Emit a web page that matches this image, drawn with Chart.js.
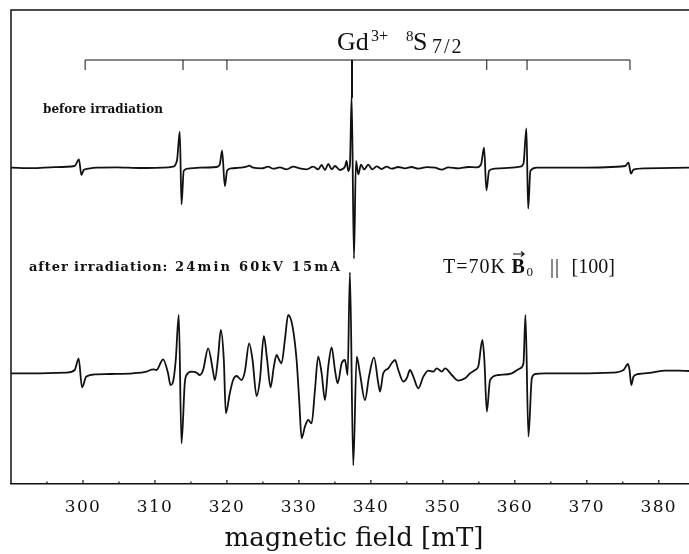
<!DOCTYPE html>
<html>
<head>
<meta charset="utf-8">
<script src="https://cdn.jsdelivr.net/npm/chart.js@4.4.1/dist/chart.umd.min.js"></script>
<style>
  html, body { margin: 0; padding: 0; background: #fff; }
</style>
</head>
<body>
<canvas id="graficoEspectro" width="689" height="554"></canvas>
<script>
// Espectro EPR antes de irradiar (campo en mT, señal en unidades arbitrarias)
const campoAntes = [290.0, 293.0, 296.0, 298.85, 299.44, 299.78, 300.1, 300.7, 301.86, 304.65, 307.9, 311.1,
  312.5, 313.07, 313.45, 313.69, 314.0, 314.6, 316.2, 318.55, 319.0, 319.33, 319.71, 320.03, 320.64, 321.8,
  322.73, 323.09, 323.64, 324.81, 325.73, 326.43, 327.36, 328.29, 329.21, 330.14, 331.07, 331.99, 332.68,
  333.16, 333.62, 334.08, 334.55, 335.01, 335.7, 336.4, 336.63, 336.86, 337.09, 337.33, 337.65, 337.93,
  338.25, 338.62, 339.08, 339.64, 340.19, 340.81, 341.5, 342.2, 342.89, 343.81, 344.74, 345.67, 346.59,
  347.76, 348.91, 349.85, 350.76, 352.16, 353.55, 354.71, 355.31, 355.73, 356.05, 356.43, 357.26, 359.58,
  360.74, 361.2, 361.61, 361.85, 362.17, 363.06, 368.85, 375.34, 375.8, 376.13, 376.49, 378.12, 384.2];
const senalAntes = [0, -0.5, 0.5, 1.7, 8.3, -7.3, -2.3, -1, 0, 0.3, -0.3, 0,
  1, 7.7, 36, -36.7, -3, -1, 0, 0.7, 3, 17, -18.3, -3, -0.7, 0,
  1, 2, 0, -0.7, 1, -1, 0.3, -1.7, 1, -0.7, -1.7, 1, -1.7,
  2.7, -2.3, 3.7, -1.7, 1.7, -2.3, 1, 6.7, -3.3, 3, 72, -91, 6.7,
  -6.7, 3, -1.7, 3, -1.7, 1.3, -1.3, 1, -1, 0.7, -0.7, 0.7, -1,
  0.5, 0, -2, 0.3, -0.7, 0.7, 0.3, 3.3, 20, -22.7, -3, -1, 0,
  1, 4, 39.3, -41, -3, 0, 0, 1.7, 5, -6, -2, -0.7, 0];

// Espectro EPR despues de irradiar: 24min 60kV 15mA
const campoDespues = [290.0, 293.05, 297.69, 298.85, 299.4, 299.86, 300.47, 301.86, 303.71, 306.95, 308.82,
  309.74, 310.21, 311.13, 311.82, 312.16, 312.52, 312.89, 313.31, 313.69, 314.14, 314.38, 315.08, 315.77,
  316.23, 316.69, 317.39, 318.08, 318.32, 318.78, 319.15, 319.57, 319.85, 320.4, 320.86, 321.34, 322.03,
  322.49, 323.09, 323.56, 324.12, 324.58, 325.13, 325.59, 326.06, 326.52, 326.9, 327.26, 327.59, 328.05,
  328.51, 329.12, 329.68, 330.04, 330.38, 330.84, 331.29, 331.77, 332.23, 332.68, 333.16, 333.62, 334.08,
  334.55, 335.01, 335.38, 335.94, 336.4, 336.77, 337.09, 337.55, 338.03, 338.48, 339.18, 339.74, 340.43,
  341.03, 341.27, 341.72, 342.42, 342.89, 343.35, 343.81, 344.51, 344.98, 345.44, 345.9, 346.59, 347.29,
  347.98, 348.68, 349.15, 349.85, 350.31, 351.24, 352.16, 353.09, 353.78, 354.48, 354.94, 355.49, 355.77,
  356.11, 356.56, 357.72, 359.58, 360.74, 361.2, 361.48, 361.89, 362.36, 362.82, 364.21, 368.85, 373.49,
  375.1, 375.72, 375.94, 376.18, 376.49, 377.19, 379.05, 380.9, 382.75, 384.2];
const senalDespues = [0, 0, 0.7, 3.3, 15, -14, -3.3, -1, -0.7, 0, 1.7,
  4, 3.3, 14, 0, -11.7, -8.3, 13.3, 58.3, -70, -10, -1.7, 1.7, 0.7,
  -1.7, 3.3, 25, 1.7, -6.7, 16.7, 43.3, 13.3, -40, -20, -6.7, -2.7, -6.7,
  1.7, 30, 13.3, -22.7, -6.7, 37.3, 13.3, -14, 6.7, 18.3, 13.3, 10, 33.3,
  58.3, 46.7, 13.3, -26.7, -65, -53.3, -46.7, -50, -16.7, 16.7, 0, -26.7, 6.7,
  26, 3.3, -10, 10, 13.3, -1.7, 101, -92, 16.7, 0, -26.7, -3.3, 16,
  -10, -18.3, 0, 5, 10, 13.3, 3.3, -8.3, -5, 3.3, -3.3, -15, -3.3,
  2.7, 1.7, 5, 1.7, 5, -1.7, -7.3, -5, 0, 3.3, 7.3, 33.3, 13.3,
  -38.3, -6.7, -1.7, 0, 5, 10, 58.3, -63.3, -5, -0.7, 0, 0, 0.7,
  3.3, 9.3, 3.3, -11.7, -3.3, -0.7, 0.7, 2.7, 2.7, 2.3];

// Etiquetas del eje x y posiciones de las lineas de estructura fina del Gd3+
const ticksCampo = [300, 310, 320, 330, 340, 350, 360, 370, 380];
const lineasGd = [300.3, 313.9, 320.0, 337.38, 356.1, 361.7, 376.0];

// Desplazamiento vertical de cada espectro
const DESPLAZ_ANTES = 316.3;
const DESPLAZ_DESPUES = 110.7;
const NEGRO = '#111';

function texto(ctx, str, x, y, font, espaciado) {
    ctx.font = font;
    ctx.letterSpacing = (espaciado || 0) + 'px';
    ctx.fillText(str, x, y);
    ctx.letterSpacing = '0px';
}

// Marco, corchete de lineas, anotaciones y titulo del eje
const pluginMarco = {
    id: 'marco',
    beforeDraw(chart) {
        chart.ctx.letterSpacing = '1.3px';
    },
    beforeDatasetsDraw(chart) {
        chart.ctx.letterSpacing = '0px';
    },
    afterDraw(chart) {
        const ctx = chart.ctx;
        const area = chart.chartArea;
        const xs = chart.scales.x;
        const ys = chart.scales.y;
        ctx.save();
        ctx.strokeStyle = NEGRO;
        ctx.fillStyle = NEGRO;

        // borde superior e izquierdo
        ctx.lineWidth = 1.5;
        ctx.beginPath();
        ctx.moveTo(area.left, area.bottom);
        ctx.lineTo(area.left, area.top);
        ctx.lineTo(chart.width, area.top);
        ctx.stroke();

        // marcas hacia dentro del eje x
        ctx.lineWidth = 1.2;
        for (let v = 295; v <= 380; v += 5) {
            const px = xs.getPixelForValue(v);
            const largo = v % 10 === 0 ? 4 : 2.5;
            ctx.beginPath();
            ctx.moveTo(px, area.bottom);
            ctx.lineTo(px, area.bottom - largo);
            ctx.stroke();
        }

        // corchete de las lineas Gd3+
        const yCorchete = 60;
        ctx.lineWidth = 1;
        ctx.beginPath();
        ctx.moveTo(xs.getPixelForValue(lineasGd[0]), yCorchete);
        ctx.lineTo(xs.getPixelForValue(lineasGd[lineasGd.length - 1]), yCorchete);
        ctx.stroke();
        lineasGd.forEach((v, i) => {
            const px = xs.getPixelForValue(v);
            const fin = i === 3 ? ys.getPixelForValue(DESPLAZ_ANTES + 70) : yCorchete + 10;
            ctx.lineWidth = i === 3 ? 2 : 1;
            ctx.beginPath();
            ctx.moveTo(px, yCorchete);
            ctx.lineTo(px, fin);
            ctx.stroke();
        });

        ctx.textBaseline = 'alphabetic';
        ctx.textAlign = 'left';

        // Gd3+ 8S7/2
        texto(ctx, 'Gd', 337, 49.5, '26px "Liberation Serif"');
        texto(ctx, '3+', 371, 41, '16px "Liberation Serif"');
        texto(ctx, '8', 406, 41, '15px "Liberation Serif"');
        texto(ctx, 'S', 413, 49.5, '26px "Liberation Serif"');
        texto(ctx, '7/2', 432, 53, '20px "Liberation Serif"', 2);

        // rotulos de los espectros
        texto(ctx, 'before irradiation', 43, 113, 'bold 12px "DejaVu Serif"');
        texto(ctx, 'after irradiation:', 29, 271, 'bold 13px "DejaVu Serif"', 0.9);
        texto(ctx, '24min 60kV 15mA', 175, 271, 'bold 13px "DejaVu Serif"', 2.2);

        // T=70K B0 || [100]
        texto(ctx, 'T=70K', 443, 272.5, '20px "Liberation Serif"', 1);
        texto(ctx, 'B', 511.5, 272.5, 'bold 20px "Liberation Serif"');
        ctx.lineWidth = 1.2;
        ctx.beginPath();
        ctx.moveTo(513, 254);
        ctx.lineTo(524, 254);
        ctx.moveTo(521, 251.5);
        ctx.lineTo(524, 254);
        ctx.lineTo(521, 256.5);
        ctx.stroke();
        texto(ctx, '0', 526.5, 276, '13px "Liberation Serif"');
        texto(ctx, '||', 550, 272.5, '20px "Liberation Serif"', 1);
        texto(ctx, '[100]', 571.5, 272.5, '20px "Liberation Serif"');

        // titulo del eje x
        ctx.textAlign = 'center';
        texto(ctx, 'magnetic field [mT]', 354, 546, '26px "DejaVu Serif"');
        ctx.restore();
    }
};

const puntosAntes = campoAntes.map((c, i) => ({ x: c, y: senalAntes[i] + DESPLAZ_ANTES }));
const puntosDespues = campoDespues.map((c, i) => ({ x: c, y: senalDespues[i] + DESPLAZ_DESPUES }));

const ctx = document.getElementById('graficoEspectro').getContext('2d');
window.graficoEspectro = new Chart(ctx, {
    type: 'line',
    data: {
        datasets: [{
            label: 'before irradiation',
            data: puntosAntes,
            borderColor: NEGRO,
            borderWidth: 1.8,
            pointRadius: 0,
            fill: false,
            cubicInterpolationMode: 'monotone'
        }, {
            label: 'after irradiation',
            data: puntosDespues,
            borderColor: NEGRO,
            borderWidth: 1.8,
            pointRadius: 0,
            fill: false,
            cubicInterpolationMode: 'monotone'
        }]
    },
    options: {
        responsive: false,
        animation: false,
        devicePixelRatio: 1,
        layout: { padding: { left: 11, top: 10, right: 0, bottom: 0 } },
        plugins: {
            legend: { display: false },
            tooltip: { enabled: false }
        },
        scales: {
            x: {
                type: 'linear',
                min: 290,
                max: 384.2,
                afterBuildTicks: (escala) => {
                    escala.ticks = ticksCampo.map(v => ({ value: v }));
                },
                afterFit: (escala) => {
                    escala.height = 70;
                },
                grid: { display: false, drawTicks: false },
                border: { display: true, color: NEGRO, width: 1.5 },
                ticks: {
                    padding: 13,
                    color: NEGRO,
                    autoSkip: false,
                    maxRotation: 0,
                    font: { family: 'DejaVu Serif', size: 17 }
                }
            },
            y: {
                display: false,
                min: 0,
                max: 474
            }
        }
    },
    plugins: [pluginMarco]
});
</script>
</body>
</html>
